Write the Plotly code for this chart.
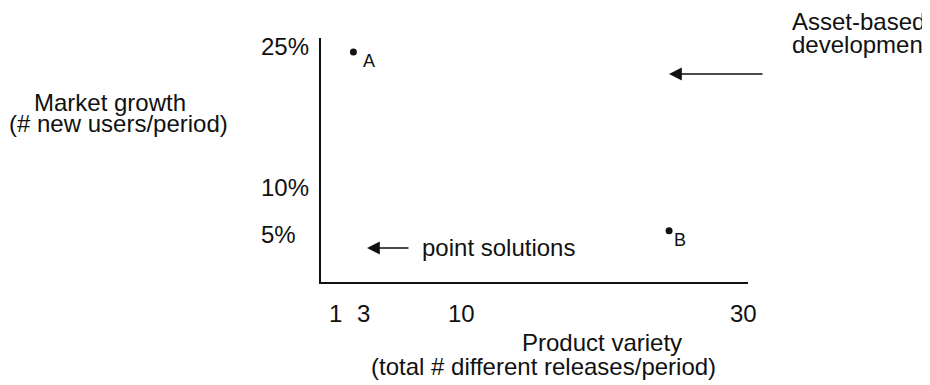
import plotly.graph_objects as go

# ---- data ----
point_names = ["A", "B"]
product_variety = [2.3, 24.7]      # x values
market_growth = [24.4, 5.35]       # y values (%)

x_tick_vals = [1, 3, 10, 30]
x_tick_labels = ["1", "3", "10", "30"]
y_tick_vals = [25, 10, 5]
y_tick_labels = ["25%", "10%", "5%"]

W, H = 930, 385
L, R, T, B = 313, 190, 30, 111
PW, PH = W - L - R, H - T - B

def px_x(px):
    return (px - L) / PW

def px_y(py):
    return (H - B - py) / PH

FONT = "Liberation Sans, Arial, Helvetica, sans-serif"
INK = "#111111"
FS = 24

fig = go.Figure()
fig.add_trace(go.Scatter(
    x=product_variety, y=market_growth, mode="markers",
    marker=dict(size=7, color=INK), hoverinfo="skip", showlegend=False,
))

ann = []
# y tick labels (left aligned, as in the drawing)
for v, lab in zip(y_tick_vals, y_tick_labels):
    ann.append(dict(x=px_x(251), xref="paper", y=v, yref="y", text=lab,
                    xanchor="left", yanchor="middle", showarrow=False,
                    font=dict(size=FS, color=INK, family=FONT)))
# x tick labels
for v, lab in zip(x_tick_vals, x_tick_labels):
    ann.append(dict(x=v, xref="x", y=px_y(305), yref="paper", text=lab,
                    xanchor="center", yanchor="middle", showarrow=False,
                    font=dict(size=FS, color=INK, family=FONT)))
# point labels
shifts = [(16, -9), (11, -9)]
for n, xv, yv, (dx, dy) in zip(point_names, product_variety, market_growth, shifts):
    ann.append(dict(x=xv, y=yv, xref="x", yref="y", text=n, xshift=dx, yshift=dy,
                    showarrow=False, xanchor="center", yanchor="middle",
                    font=dict(size=18, color=INK, family=FONT)))

def text(px, py, s, anchor="center"):
    ann.append(dict(x=px_x(px), y=px_y(py), xref="paper", yref="paper", text=s,
                    showarrow=False, xanchor=anchor, yanchor="middle",
                    font=dict(size=FS, color=INK, family=FONT)))

# axis titles
text(102, 94, "Market growth")
text(110, 115, "(# new users/period)")
text(594, 334, "Product variety")
text(535, 358, "(total # different releases/period)")

# annotations with arrows
text(782, 14, "Asset-based", anchor="left")
text(782, 37, "development", anchor="left")
text(412, 239, "point solutions", anchor="left")

def arrow(head_px, head_py, tail_px):
    ann.append(dict(x=px_x(head_px), y=px_y(head_py), xref="paper", yref="paper",
                    ax=tail_px - head_px, ay=0, axref="pixel", ayref="pixel",
                    text="", showarrow=True, arrowhead=2, arrowsize=1.6,
                    arrowwidth=1.6, arrowcolor=INK))

arrow(661, 66, 756)
arrow(359, 240, 402)

fig.update_layout(
    width=W, height=H,
    margin=dict(l=L, r=R, t=T, b=B),
    paper_bgcolor="white", plot_bgcolor="white",
    xaxis=dict(range=[0, 30.3], showgrid=False, zeroline=False, showticklabels=False,
               ticks="", showline=True, linecolor=INK, linewidth=2),
    yaxis=dict(range=[-0.1, 25.9], showgrid=False, zeroline=False, showticklabels=False,
               ticks="", showline=True, linecolor=INK, linewidth=2),
    annotations=ann,
    font=dict(family=FONT, color=INK),
)

fig.write_html("out.html")
